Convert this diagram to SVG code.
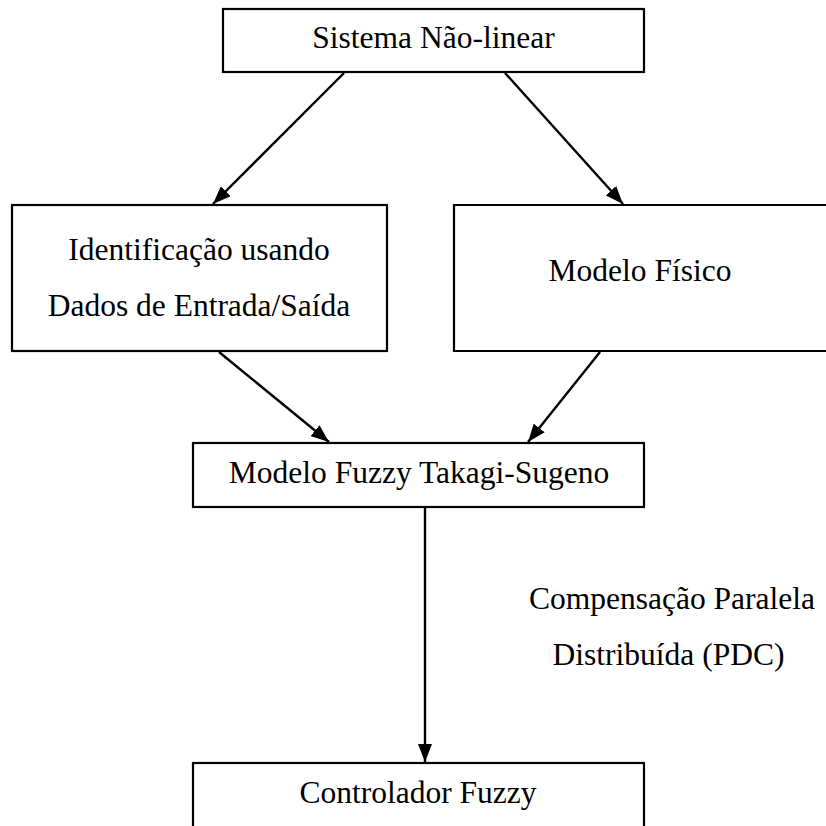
<svg xmlns="http://www.w3.org/2000/svg" width="826" height="826" viewBox="0 0 826 826">
  <style>
    .box { fill: #ffffff; stroke: #000000; stroke-width: 2.2; }
    .edge { fill: none; stroke: #000000; stroke-width: 2.4; }
    text { font-family: "Liberation Serif", "Times New Roman", serif; font-size: 31.5px; fill: #000000; }
  </style>
  <defs>
    <marker id="arrow" markerWidth="18" markerHeight="14" refX="18" refY="7" orient="auto" markerUnits="userSpaceOnUse">
      <path d="M0,0 L18,7 L0,14 Z" fill="#000000"/>
    </marker>
  </defs>
  <rect width="826" height="826" fill="#ffffff"/>

  <g id="connectors">
    <line class="edge" x1="344" y1="73" x2="213" y2="204" marker-end="url(#arrow)"/>
    <line class="edge" x1="505" y1="73" x2="623" y2="204" marker-end="url(#arrow)"/>
    <line class="edge" x1="219" y1="352" x2="329" y2="442" marker-end="url(#arrow)"/>
    <line class="edge" x1="600" y1="352" x2="528" y2="442" marker-end="url(#arrow)"/>
    <line class="edge" x1="425" y1="507" x2="425" y2="762" marker-end="url(#arrow)"/>
  </g>

  <g id="sistema">
    <rect class="box" x="223" y="9" width="421" height="63"/>
    <text x="433.5" y="48" text-anchor="middle">Sistema Não-linear</text>
  </g>

  <g id="identificacao">
    <rect class="box" x="12" y="205" width="375" height="146"/>
    <text x="199" y="260" text-anchor="middle">Identificação usando</text>
    <text x="199" y="316" text-anchor="middle">Dados de Entrada/Saída</text>
  </g>

  <g id="modelo-fisico">
    <path class="box" d="M840,205 H454 V351 H840"/>
    <text x="640" y="281" text-anchor="middle">Modelo Físico</text>
  </g>

  <g id="modelo-ts">
    <rect class="box" x="193" y="443" width="451" height="64"/>
    <text x="419" y="483" text-anchor="middle">Modelo Fuzzy Takagi-Sugeno</text>
  </g>

  <g id="pdc-label">
    <text x="672" y="609" text-anchor="middle">Compensação Paralela</text>
    <text x="668.5" y="665" text-anchor="middle">Distribuída (PDC)</text>
  </g>

  <g id="controlador">
    <rect class="box" x="193" y="763" width="451" height="80"/>
    <text x="418" y="803" text-anchor="middle">Controlador Fuzzy</text>
  </g>
</svg>
